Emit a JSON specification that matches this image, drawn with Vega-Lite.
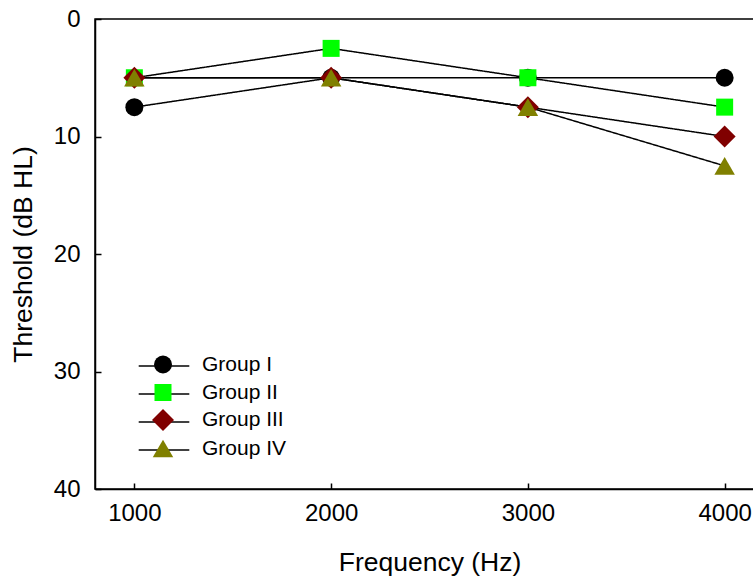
{
  "$schema": "https://vega.github.io/schema/vega-lite/v6.json",
  "width": 669,
  "height": 470,
  "autosize": {"type": "none"},
  "padding": {"left": 95, "top": 19, "right": 0, "bottom": 87},
  "background": "white",
  "config": {
    "font": "Liberation Sans",
    "view": {"stroke": "black", "strokeWidth": 1.5},
    "axis": {
      "grid": false,
      "domainColor": "black",
      "domainWidth": 1.5,
      "tickColor": "black",
      "tickWidth": 1.5,
      "tickSize": -6,
      "labelColor": "black",
      "titleColor": "black",
      "labelFont": "Liberation Sans",
      "titleFont": "Liberation Sans",
      "labelFontSize": 24,
      "titleFontSize": 26.5,
      "titleFontWeight": "normal"
    },
    "legend": {
      "labelFont": "Liberation Sans",
      "labelFontSize": 21,
      "labelColor": "black"
    }
  },
  "data": {
    "values": [
      {"group": "Group I", "freq": 1000, "thr": 7.5},
      {"group": "Group I", "freq": 2000, "thr": 5},
      {"group": "Group I", "freq": 3000, "thr": 5},
      {"group": "Group I", "freq": 4000, "thr": 5},
      {"group": "Group II", "freq": 1000, "thr": 5},
      {"group": "Group II", "freq": 2000, "thr": 2.5},
      {"group": "Group II", "freq": 3000, "thr": 5},
      {"group": "Group II", "freq": 4000, "thr": 7.5},
      {"group": "Group III", "freq": 1000, "thr": 5},
      {"group": "Group III", "freq": 2000, "thr": 5},
      {"group": "Group III", "freq": 3000, "thr": 7.5},
      {"group": "Group III", "freq": 4000, "thr": 10},
      {"group": "Group IV", "freq": 1000, "thr": 5},
      {"group": "Group IV", "freq": 2000, "thr": 5},
      {"group": "Group IV", "freq": 3000, "thr": 7.5},
      {"group": "Group IV", "freq": 4000, "thr": 12.5}
    ]
  },
  "encoding": {
    "x": {
      "field": "freq",
      "type": "quantitative",
      "scale": {"domain": [800, 4200], "nice": false, "zero": false},
      "axis": {"values": [1000, 2000, 3000, 4000], "format": "d", "title": "Frequency (Hz)", "labelPadding": 18, "titlePadding": 24}
    },
    "y": {
      "field": "thr",
      "type": "quantitative",
      "scale": {"domain": [0, 40], "reverse": true, "nice": false, "zero": false},
      "axis": {"values": [0, 10, 20, 30, 40], "title": "Threshold (dB HL)", "labelPadding": 21, "titlePadding": 16}
    }
  },
  "layer": [
    {
      "mark": {"type": "line", "color": "black", "strokeWidth": 1.5},
      "encoding": {
        "strokeDash": {
          "field": "group",
          "type": "nominal",
          "scale": {"range": [[1, 0], [1, 0], [1, 0], [1, 0]]},
          "legend": {
            "orient": "none", "legendX": 57, "legendY": 335, "title": null,
            "symbolType": "M-2.3,0H2.3", "symbolSize": 484,
            "symbolStrokeColor": "black", "symbolStrokeWidth": 1.5,
            "labelOffset": 28, "rowPadding": 6, "labelExpr": "''"
          }
        }
      }
    },
    {
      "mark": {"type": "point", "filled": true, "opacity": 1, "strokeWidth": 0},
      "encoding": {
        "color": {
          "field": "group",
          "type": "nominal",
          "scale": {"domain": ["Group I", "Group II", "Group III", "Group IV"], "range": ["#000000", "#00ff00", "#800000", "#808000"]},
          "legend": {"orient": "none", "legendX": 57, "legendY": 335, "title": null, "labelOffset": 28, "rowPadding": 6, "symbolStrokeWidth": 0}
        },
        "shape": {
          "field": "group",
          "type": "nominal",
          "scale": {"domain": ["Group I", "Group II", "Group III", "Group IV"], "range": ["circle", "square", "diamond", "triangle-up"]},
          "legend": {"orient": "none", "legendX": 57, "legendY": 335, "title": null, "labelOffset": 28, "rowPadding": 6, "symbolStrokeWidth": 0}
        },
        "size": {
          "field": "group",
          "type": "nominal",
          "scale": {"type": "ordinal", "domain": ["Group I", "Group II", "Group III", "Group IV"], "range": [324, 289, 484, 420]},
          "legend": {"orient": "none", "legendX": 57, "legendY": 335, "title": null, "labelOffset": 28, "rowPadding": 6, "symbolStrokeWidth": 0}
        }
      }
    }
  ]
}
